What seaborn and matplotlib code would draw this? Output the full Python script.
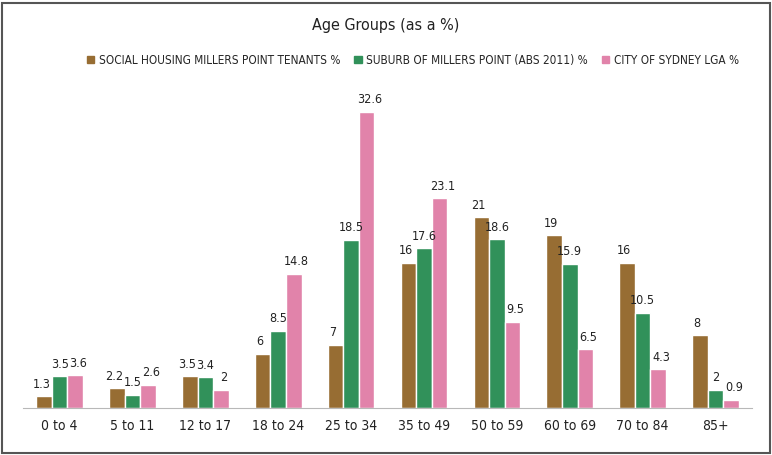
import matplotlib.pyplot as plt
import matplotlib.patches as mpatches
import seaborn as sns
import pandas as pd
import numpy as np

age_groups = ["0 to 4", "5 to 11", "12 to 17", "18 to 24", "25 to 34",
              "35 to 49", "50 to 59", "60 to 69", "70 to 84", "85+"]
series_names = ["SOCIAL HOUSING MILLERS POINT TENANTS %",
                "SUBURB OF MILLERS POINT (ABS 2011) %",
                "CITY OF SYDNEY LGA %"]
social_housing = [1.3, 2.2, 3.5, 6, 7, 16, 21, 19, 16, 8]
suburb = [3.5, 1.5, 3.4, 8.5, 18.5, 17.6, 18.6, 15.9, 10.5, 2]
city = [3.6, 2.6, 2, 14.8, 32.6, 23.1, 9.5, 6.5, 4.3, 0.9]
colors = ["#976d33", "#31915a", "#e183aa"]

df = pd.DataFrame({
    "age": age_groups * 3,
    "series": [series_names[0]] * 10 + [series_names[1]] * 10 + [series_names[2]] * 10,
    "value": social_housing + suburb + city,
})

sns.set_style("white")
plt.rcParams['font.family'] = ['DejaVu Sans']
plt.rcParams['font.stretch'] = 'condensed'

fig = plt.figure(figsize=(7.72, 4.55), dpi=100)
ax = fig.add_axes([0.030, 0.103, 0.944, 0.699])

sns.barplot(data=df, x="age", y="value", hue="series", order=age_groups,
            hue_order=series_names, palette=colors, width=0.64,
            saturation=1, ax=ax, legend=True)

# nudge labels sideways a bit so neighbours don't collide
for cont, dx in zip(ax.containers, [-2, 0, 2]):
    for t in ax.bar_label(cont, fmt="%g", padding=4, fontsize=9, color="#222222"):
        t.xyann = (dx, 4)

ax.set_ylim(0, 35)
ax.set_xlim(-0.5, 9.5)
ax.set_yticks([])
ax.set_xlabel("")
ax.set_ylabel("")
for side in ["top", "right", "left"]:
    ax.spines[side].set_visible(False)
ax.spines["bottom"].set_color("#b8b8b8")
ax.tick_params(axis="x", which="major", length=0, labelsize=10, pad=8, colors="#222222")
ax.set_xticks(np.arange(-0.5, 10, 1), minor=True)
ax.tick_params(axis="x", which="minor", length=4, color="#b8b8b8", width=0.8)

handles = [mpatches.Patch(color=c) for c in colors]
ax.legend(handles, series_names, loc="center", bbox_to_anchor=(0.535, 1.094),
          ncol=3, frameon=False, fontsize=8.5, handlelength=0.6, handleheight=0.6,
          handletextpad=0.4, columnspacing=1.2)

fig.text(0.5, 0.945, "Age Groups (as a %)", ha="center", va="center",
         fontsize=11.5, color="#222222")

fig.patches.append(mpatches.Rectangle((0.002, 0.004), 0.995, 0.99, transform=fig.transFigure,
                                      fill=False, edgecolor="#555555", linewidth=1.5))

fig.savefig("out.png", dpi=100)
